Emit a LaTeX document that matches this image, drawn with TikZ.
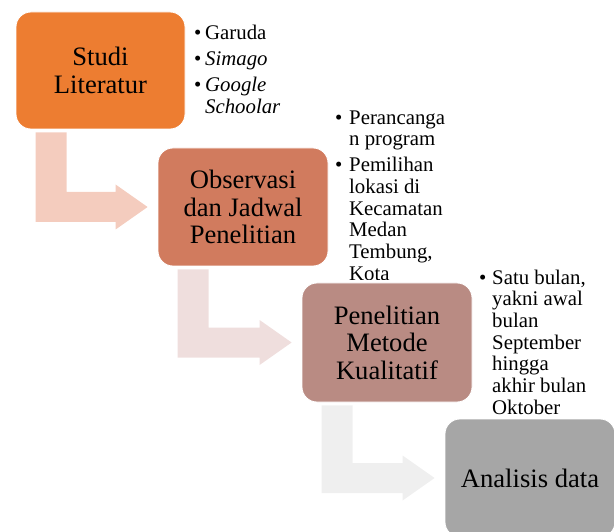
\documentclass[tikz,border=0pt]{standalone}
\usepackage{fontspec}
\setmainfont{Liberation Serif}
\usetikzlibrary{calc}
\definecolor{cbox1}{HTML}{ED7D31}
\definecolor{cbox2}{HTML}{D17B5E}
\definecolor{cbox3}{HTML}{B98B83}
\definecolor{cbox4}{HTML}{A6A6A6}
\definecolor{carr1}{HTML}{F4CCBE}
\definecolor{carr2}{HTML}{EFDEDD}
\definecolor{carr3}{HTML}{EFEFEF}
\newcommand{\bentarrow}[3]{%
  \fill[#3] let \p1=(#1.south west), \p2=(#2.west) in
    (\x1+20pt,\y1-3pt) -- (\x1+51pt,\y1-3pt) -- (\x1+51pt,\y2+15pt)
    -- (\x2-42pt,\y2+15pt) -- (\x2-42pt,\y2+22.5pt) -- (\x2-10pt,\y2)
    -- (\x2-42pt,\y2-22.5pt) -- (\x2-42pt,\y2-15pt) -- (\x1+20pt,\y2-15pt) -- cycle;}
\begin{document}
\begin{tikzpicture}[x=1pt,y=-1pt,
  stage/.style={draw=white, line width=0.8pt, rounded corners=15pt, inner sep=0pt,
    minimum width=170pt, minimum height=118pt, align=center,
    font=\fontsize{26.6}{27.5}\selectfont},
  bl/.style={anchor=base west, inner sep=0pt, font=\fontsize{20.8}{21.7}\selectfont}]
\useasboundingbox (0,0) rectangle (614,532);
\clip (0,0) rectangle (614,532);

% stages
\node[stage, fill=cbox1, minimum width=169pt, minimum height=117pt] (s1) at (100.5,70.5) {Studi\\Literatur};
\node[stage, fill=cbox2] (s2) at (243,207) {Observasi\\dan Jadwal\\Penelitian};
\node[stage, fill=cbox3, minimum height=119pt] (s3) at (387,342.5) {Penelitian\\Metode\\Kualitatif};
\node[stage, fill=cbox4] (s4) at (530,478) {Analisis data};

% bent arrows
\bentarrow{s1}{s2}{carr1}
\bentarrow{s2}{s3}{carr2}
\bentarrow{s3}{s4}{carr3}

% list 1
\node[bl] (b11) at (194,40) {\textbullet};
\node[bl] (t11) at (205,40) {Garuda};
\node[bl] (b12) at (194,66) {\textbullet};
\node[bl] (t12) at (205,66) {\textit{Simago}};
\node[bl] (b13) at (194,92) {\textbullet};
\node[bl] (t13) at (205,92) {\textit{Google}};
\node[bl] (t14) at (205,113.5) {\textit{Schoolar}};

% list 2 (clipped at the bottom)
\begin{scope}
\clip (320,100) rectangle (470,279.3);
\node[bl] (b21) at (335,125) {\textbullet};
\node[bl] (t21) at (349,125) {Perancanga};
\node[bl] (t22) at (349,146) {n program};
\node[bl] (b22) at (335,171.7) {\textbullet};
\node[bl] (t23) at (349,171.7) {Pemilihan};
\node[bl] (t24) at (349,193.4) {lokasi di};
\node[bl] (t25) at (349,215.1) {Kecamatan};
\node[bl] (t26) at (349,236.8) {Medan};
\node[bl] (t27) at (349,258.5) {Tembung,};
\node[bl] (t28) at (349,280.5) {Kota};
\end{scope}

% list 3
\node[bl] (b31) at (479,284) {\textbullet};
\node[bl] (t31) at (492,284) {Satu bulan,};
\node[bl] (t32) at (492,305.7) {yakni awal};
\node[bl] (t33) at (492,327.4) {bulan};
\node[bl] (t34) at (492,349.1) {September};
\node[bl] (t35) at (492,370.8) {hingga};
\node[bl] (t36) at (492,392.5) {akhir bulan};
\node[bl] (t37) at (492,414.2) {Oktober};
\end{tikzpicture}
\end{document}
